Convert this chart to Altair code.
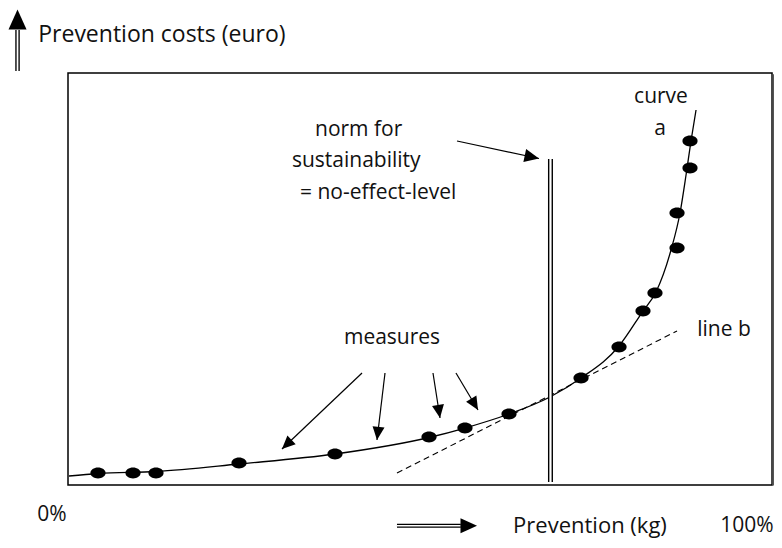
import math
import altair as alt
import pandas as pd

# ---------------- data (x: prevention %, y: prevention cost, arbitrary units) ----------------
dot_x = [4.23, 9.17, 12.41, 24.12, 37.66, 50.92, 55.99, 62.20, 72.36, 77.72, 81.10, 82.79, 85.90, 85.90, 87.73, 87.73]
dot_y = [2.91, 2.91, 2.91, 5.34, 7.52, 11.65, 13.83, 17.23, 25.97, 33.50, 42.23, 46.60, 57.52, 66.02, 76.94, 83.50]

curve_x = [0.14, 4.23, 12.41, 24.12, 37.66, 50.92, 55.99, 62.20, 67.98, 72.36, 77.72, 81.10, 82.93, 85.05, 86.32, 87.17, 87.87, 88.58]
curve_y = [2.18, 2.79, 3.28, 5.10, 7.52, 11.53, 13.83, 17.23, 21.36, 25.97, 33.74, 42.23, 46.84, 57.04, 66.02, 75.24, 83.50, 91.02]

line_b_x = [46.40, 85.90]
line_b_y = [2.91, 37.38]

norm_x = 68.05
norm_y = [0.73, 79.13]

# measure arrows: start -> tip
meas_x0 = [41.47, 44.71, 51.48, 54.72]
meas_y0 = [27.18, 27.18, 27.18, 27.18]
meas_x1 = [30.18, 43.58, 52.47, 57.83]
meas_y1 = [8.74, 10.92, 16.26, 18.20]

# norm arrow (start x, start y, tip x, tip y)
norm_arrow = [54.87, 83.50, 66.43, 79.25]

# axis arrows
yaxis_arrow_x = -7.12
yaxis_arrow_y = [100.49, 110.44, 115.4]
xaxis_arrow_y = -9.9
xaxis_arrow_x = [46.40, 55.40, 57.69]

box = [0.0, 99.3, 0.0, 100.0]  # x0, x1, y0, y1

labels = ["Prevention costs (euro)", "curve", "a", "norm for", "sustainability",
          "= no-effect-level", "measures", "line b", "0%", "Prevention (kg)", "100%"]
label_x = [-4.2, 83.64, 83.50, 34.84, 31.59, 32.72, 45.70, 92.52, -2.26, 73.62, 95.77]
label_y = [109.22, 94.17, 86.41, 86.17, 78.64, 70.87, 35.68, 37.62, -7.3, -9.9, -9.9]
label_size = [23, 21, 21, 21, 21, 21, 21, 21, 21, 22, 21]
label_align = ["left", "center", "center", "left", "left", "left", "center", "center",
               "center", "center", "center"]

# ---------------- scales ----------------
W, H = 766, 532
XD = [-8.463, 99.577]
YD = [-13.350, 115.777]
px_x = W / (XD[1] - XD[0])
px_y = H / (YD[1] - YD[0])

xs = alt.Scale(domain=XD, nice=False, zero=False)
ys = alt.Scale(domain=YD, nice=False, zero=False)
X = lambda f="x": alt.X(f"{f}:Q", scale=xs, axis=None)
Y = lambda f="y": alt.Y(f"{f}:Q", scale=ys, axis=None)


def ang(x0, y0, x1, y1):
    dx = (x1 - x0) * px_x
    dy = -(y1 - y0) * px_y
    return math.degrees(math.atan2(dx, -dy)) % 360


# ---------------- frames ----------------
dots = pd.DataFrame({"x": dot_x, "y": dot_y})
curve = pd.DataFrame({"x": curve_x, "y": curve_y})
lineb = pd.DataFrame({"x": line_b_x, "y": line_b_y})

dbl = pd.DataFrame({
    "x": [norm_x, yaxis_arrow_x, xaxis_arrow_x[0]],
    "x2": [norm_x, yaxis_arrow_x, xaxis_arrow_x[1]],
    "y": [norm_y[0], yaxis_arrow_y[0], xaxis_arrow_y],
    "y2": [norm_y[1], yaxis_arrow_y[1], xaxis_arrow_y],
    "wb": [5.0, 4.5, 4.0],
    "ww": [2.2, 1.8, 1.4],
})

arr_lines = pd.DataFrame({
    "x": meas_x0 + [norm_arrow[0]],
    "y": meas_y0 + [norm_arrow[1]],
    "x2": meas_x1 + [norm_arrow[2]],
    "y2": meas_y1 + [norm_arrow[3]],
})

heads = pd.DataFrame({
    "x": meas_x1 + [norm_arrow[2], yaxis_arrow_x, xaxis_arrow_x[2]],
    "y": meas_y1 + [norm_arrow[3], yaxis_arrow_y[2], xaxis_arrow_y],
    "angle": [ang(a, b, c, d) for a, b, c, d in zip(meas_x0, meas_y0, meas_x1, meas_y1)]
    + [ang(*norm_arrow), 0.0, 90.0],
    "size": [576, 576, 576, 576, 700, 1300, 900],
})

boxdf = pd.DataFrame({"x": [box[0]], "x2": [box[1]], "y": [box[2]], "y2": [box[3]]})
shadow = pd.DataFrame({"x": [box[1] + 0.2], "y": [box[2] - 0.1], "y2": [box[3] - 0.3]})

txt = pd.DataFrame({"t": labels, "x": label_x, "y": label_y, "al": label_align, "fs": label_size})

FONT = "Open Sans"

# ---------------- layers ----------------
box_l = alt.Chart(boxdf).mark_rect(fill=None, stroke="black", strokeWidth=1.5).encode(
    x=X(), x2="x2:Q", y=Y(), y2="y2:Q")
shadow_l = alt.Chart(shadow).mark_rule(color="#555555", strokeWidth=2).encode(
    x=X(), y=Y(), y2="y2:Q")

curve_l = alt.Chart(curve).mark_line(color="black", strokeWidth=1.3, interpolate="monotone").encode(
    x=X(), y=Y(), order="x:Q")
lineb_l = alt.Chart(lineb).mark_line(color="black", strokeWidth=1.1, strokeDash=[6, 4]).encode(
    x=X(), y=Y())

ellipse = "M -1 0 A 1 0.72 0 1 0 1 0 A 1 0.72 0 1 0 -1 0 Z"
dots_l = alt.Chart(dots).mark_point(shape=ellipse, filled=True, color="black", opacity=1, size=230).encode(
    x=X(), y=Y())

dbl_b = alt.Chart(dbl).mark_rule(color="black", strokeCap="butt").encode(
    x=X(), x2="x2:Q", y=Y(), y2="y2:Q",
    strokeWidth=alt.StrokeWidth("wb:Q", scale=None))
dbl_w = alt.Chart(dbl).mark_rule(color="white", strokeCap="butt").encode(
    x=X(), x2="x2:Q", y=Y(), y2="y2:Q",
    strokeWidth=alt.StrokeWidth("ww:Q", scale=None))

arr_l = alt.Chart(arr_lines).mark_rule(color="black", strokeWidth=1.2).encode(
    x=X(), x2="x2:Q", y=Y(), y2="y2:Q")

tri = "M 0 0 L -0.5 1.1 L 0.5 1.1 Z"
heads_l = alt.Chart(heads).mark_point(shape=tri, filled=True, color="black", opacity=1).encode(
    x=X(), y=Y(),
    angle=alt.Angle("angle:Q", scale=None),
    size=alt.Size("size:Q", scale=None))

txt_left = alt.Chart(txt[txt.al == "left"]).mark_text(
    font=FONT, align="left", baseline="middle", color="#111111").encode(
    x=X(), y=Y(), text="t:N", size=alt.Size("fs:Q", scale=None))
txt_center = alt.Chart(txt[txt.al == "center"]).mark_text(
    font=FONT, align="center", baseline="middle", color="#111111").encode(
    x=X(), y=Y(), text="t:N", size=alt.Size("fs:Q", scale=None))

chart = alt.layer(
    box_l, shadow_l, lineb_l, curve_l, dots_l, dbl_b, dbl_w, arr_l, heads_l, txt_left, txt_center
).properties(
    width=W, height=H, padding=0,
    autosize=alt.AutoSizeParams(type="none"),
    background="white",
).configure_view(stroke=None)

chart.save("out.html", embed_options={"renderer": "svg", "actions": False})
